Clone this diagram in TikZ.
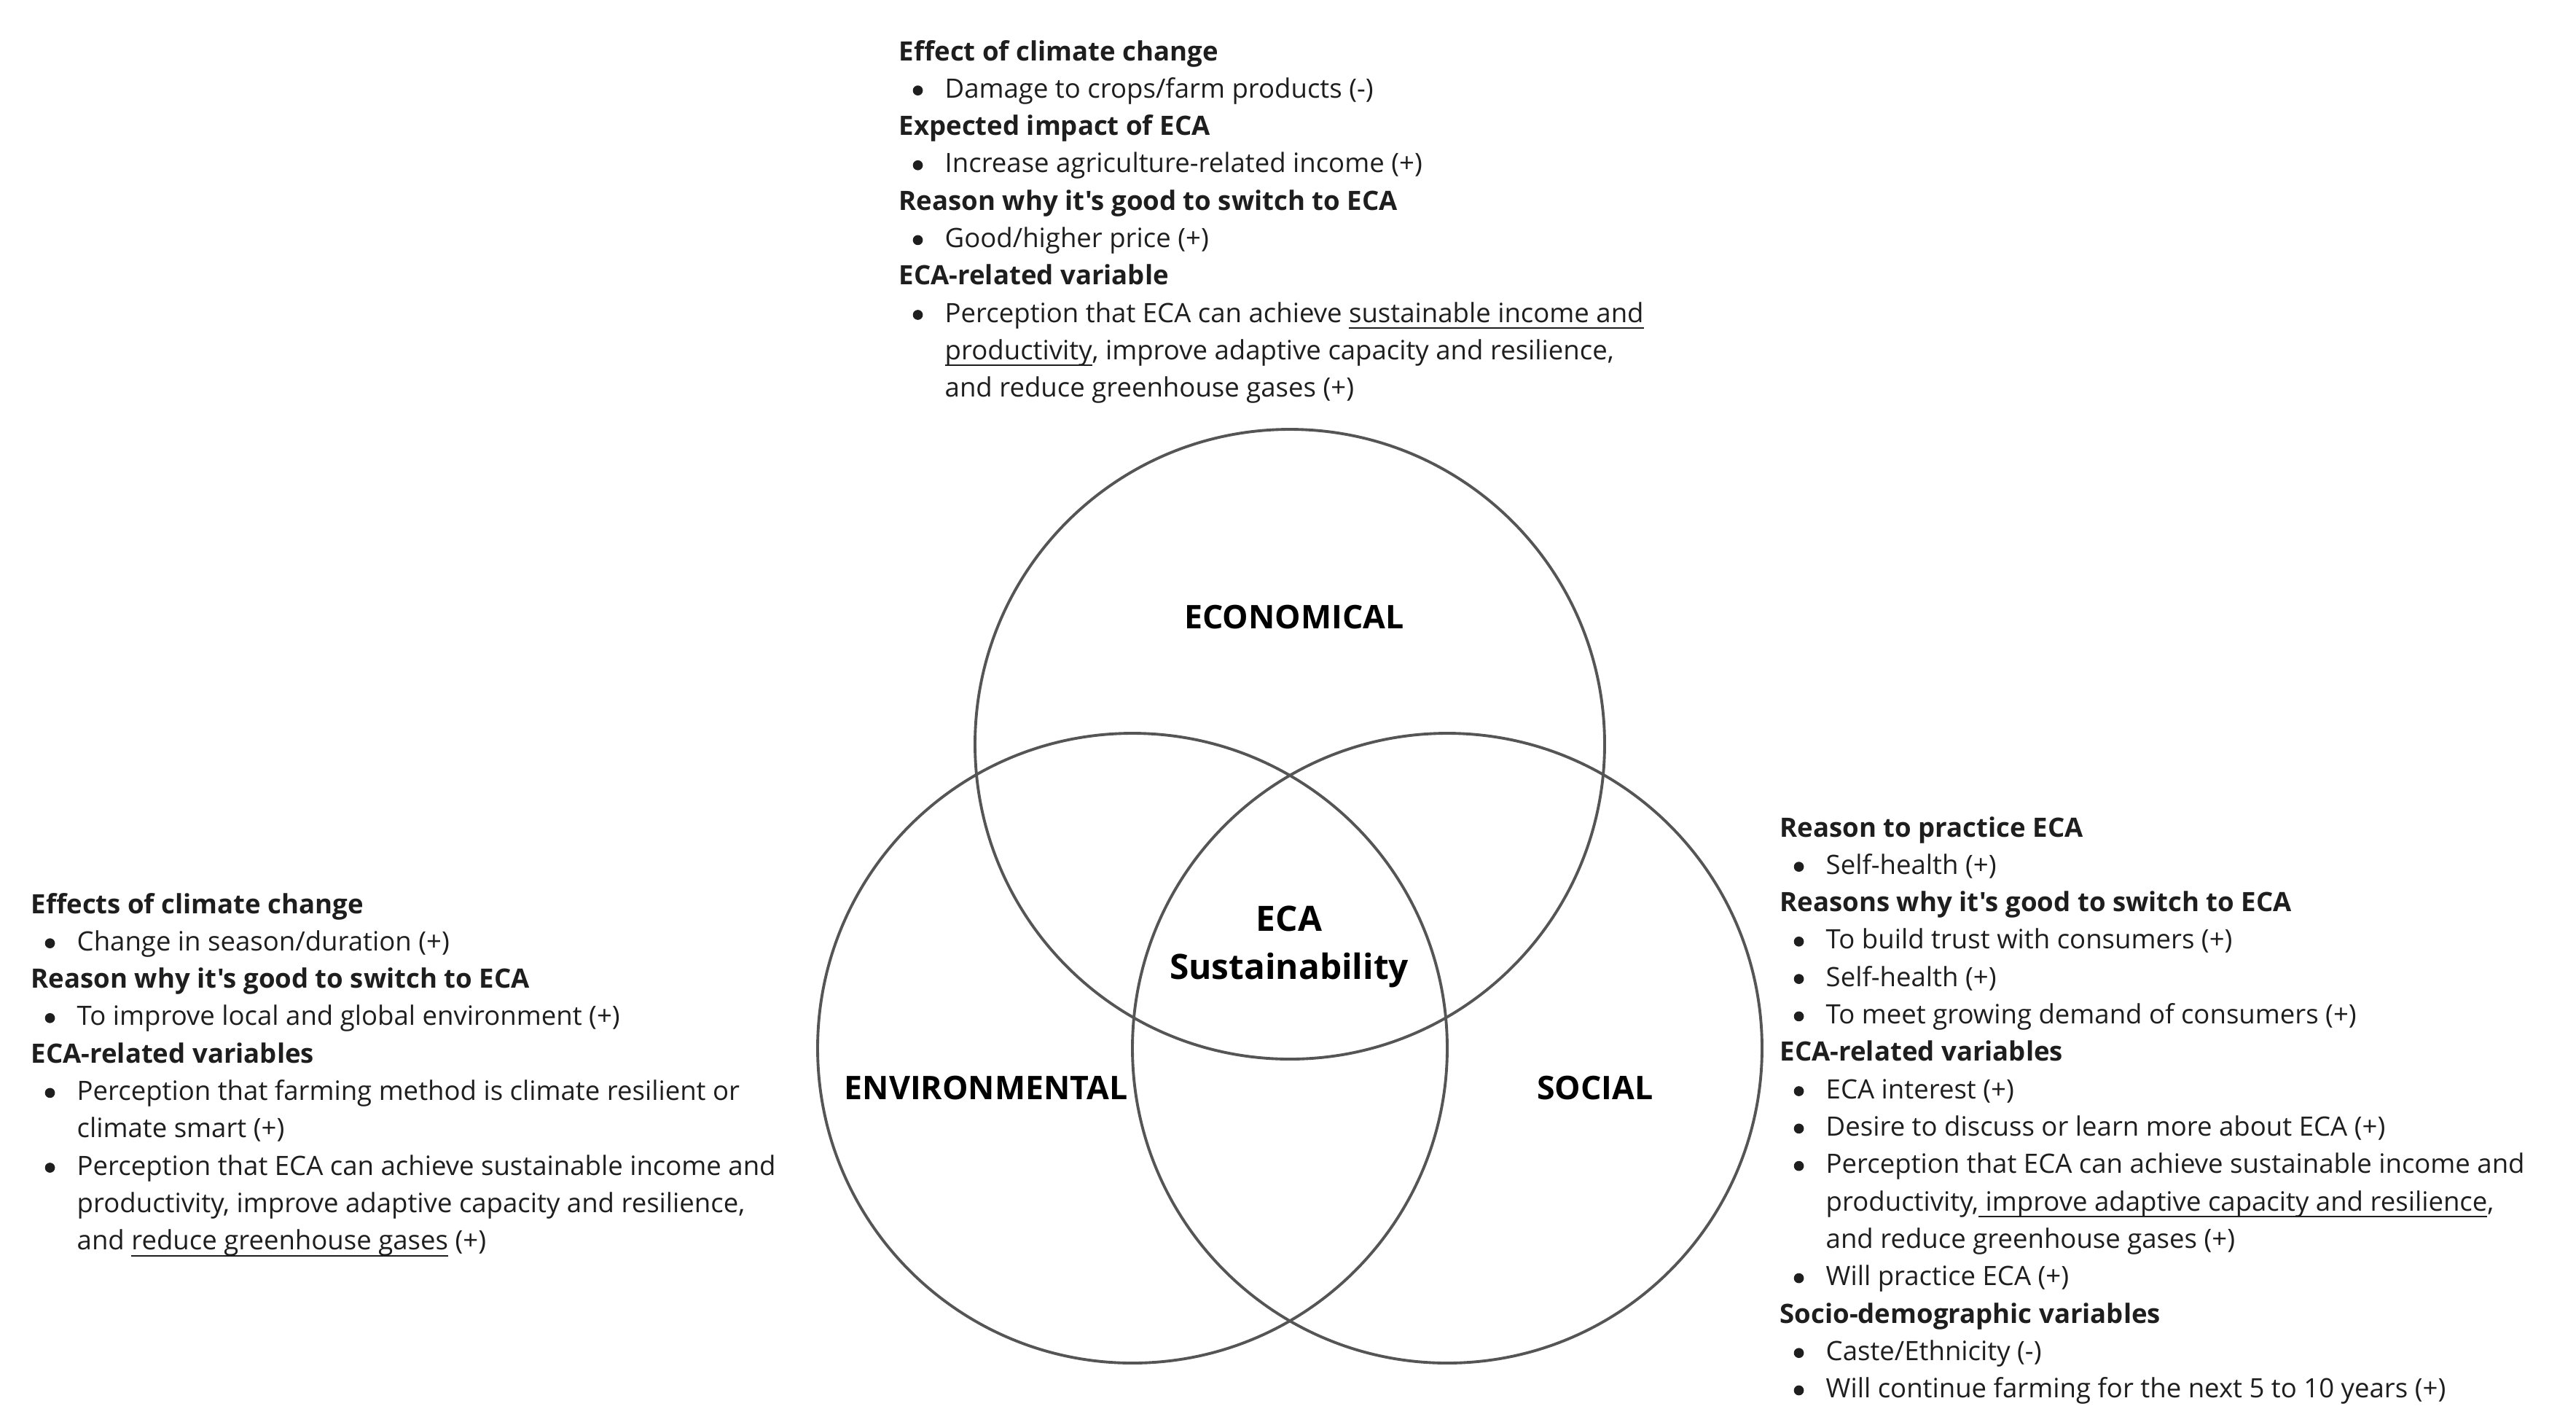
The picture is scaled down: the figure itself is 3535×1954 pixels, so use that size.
\documentclass[tikz,border=0pt]{standalone}
\usepackage{fontspec}
\setmainfont{Open Sans}[Ligatures=TeXOff]
\usetikzlibrary{calc}
\definecolor{txt}{HTML}{1E1E1E}
\definecolor{ring}{HTML}{555555}
\newcommand{\mybul}{\tikz[baseline=0pt]\fill[txt] (0pt,2.9pt) circle[radius=1.95pt];}
\newcommand{\myhd}[1]{\hbox{\bfseries #1}}
\newcommand{\mybl}[1]{\hbox{\makebox[6.3mm][l]{\hspace{1.9mm}\mybul}#1}}
\newcommand{\mycl}[1]{\hbox{\hspace{6.3mm}#1}}
\newcommand{\myul}[1]{{\setbox0\hbox{#1}\rlap{\rule[-2.5pt]{\wd0}{0.55pt}}\box0}}
\newcommand{\myblock}[1]{\vtop{\fontsize{10.4pt}{14.6pt}\selectfont\baselineskip=14.6pt\relax #1}}
\begin{document}
\begin{tikzpicture}[x=0.1mm,y=-0.1mm,
  ringline/.style={draw=ring,line width=1.1pt},
  block/.style={anchor=base west,inner sep=0pt,text=txt},
  clabel/.style={anchor=base,inner sep=0pt,text=black,font=\fontsize{12.7pt}{14pt}\selectfont\bfseries},
  ecalabel/.style={anchor=base,inner sep=0pt,text=black,font=\fontsize{13.6pt}{16pt}\selectfont\bfseries}]
\useasboundingbox (0,0) rectangle (3535,1954);
\fill[white] (0,0) rectangle (3535,1954);
% circles
\coordinate (ctop) at (1770,1021);
\coordinate (cleft) at (1554,1438);
\coordinate (cright) at (1986,1438);
\draw[ringline] (ctop) circle[radius=43.2mm];
\draw[ringline] (cleft) circle[radius=43.2mm];
\draw[ringline] (cright) circle[radius=43.2mm];
% labels
\node[clabel] (econ) at (1776,862) {ECONOMICAL};
\node[clabel] (env) at (1353,1508) {ENVIRONMENTAL};
\node[clabel] (soc) at (2189,1508) {SOCIAL};
\node[ecalabel] (ecaA) at (1769,1277) {ECA};
\node[ecalabel] (ecaB) at (1769,1343) {Sustainability};
% top block
\node[block] (topblock) at (1233,83) {\myblock{%
\myhd{Effect of climate change}
\mybl{Damage to crops/farm products (-)}
\myhd{Expected impact of ECA}
\mybl{Increase agriculture-related income (+)}
\myhd{Reason why it's good to switch to ECA}
\mybl{Good/higher price (+)}
\myhd{ECA-related variable}
\mybl{Perception that ECA can achieve \myul{sustainable income and}}
\mycl{\myul{productivity}, improve adaptive capacity and resilience,}
\mycl{and reduce greenhouse gases (+)}
}};
% left block
\node[block] (leftblock) at (42,1253) {\myblock{%
\myhd{Effects of climate change}
\mybl{Change in season/duration (+)}
\myhd{Reason why it's good to switch to ECA}
\mybl{To improve local and global environment (+)}
\myhd{ECA-related variables}
\mybl{Perception that farming method is climate resilient or}
\mycl{climate smart (+)}
\mybl{Perception that ECA can achieve sustainable income and}
\mycl{productivity, improve adaptive capacity and resilience,}
\mycl{and \myul{reduce greenhouse gases} (+)}
}};
% right block
\node[block] (rightblock) at (2442,1148) {\myblock{%
\myhd{Reason to practice ECA}
\mybl{Self-health (+)}
\myhd{Reasons why it's good to switch to ECA}
\mybl{To build trust with consumers (+)}
\mybl{Self-health (+)}
\mybl{To meet growing demand of consumers (+)}
\myhd{ECA-related variables}
\mybl{ECA interest (+)}
\mybl{Desire to discuss or learn more about ECA (+)}
\mybl{Perception that ECA can achieve sustainable income and}
\mycl{productivity,\myul{ improve adaptive capacity and resilience},}
\mycl{and reduce greenhouse gases (+)}
\mybl{Will practice ECA (+)}
\myhd{Socio-demographic variables}
\mybl{Caste/Ethnicity (-)}
\mybl{Will continue farming for the next 5 to 10 years (+)}
}};
\end{tikzpicture}
\end{document}
